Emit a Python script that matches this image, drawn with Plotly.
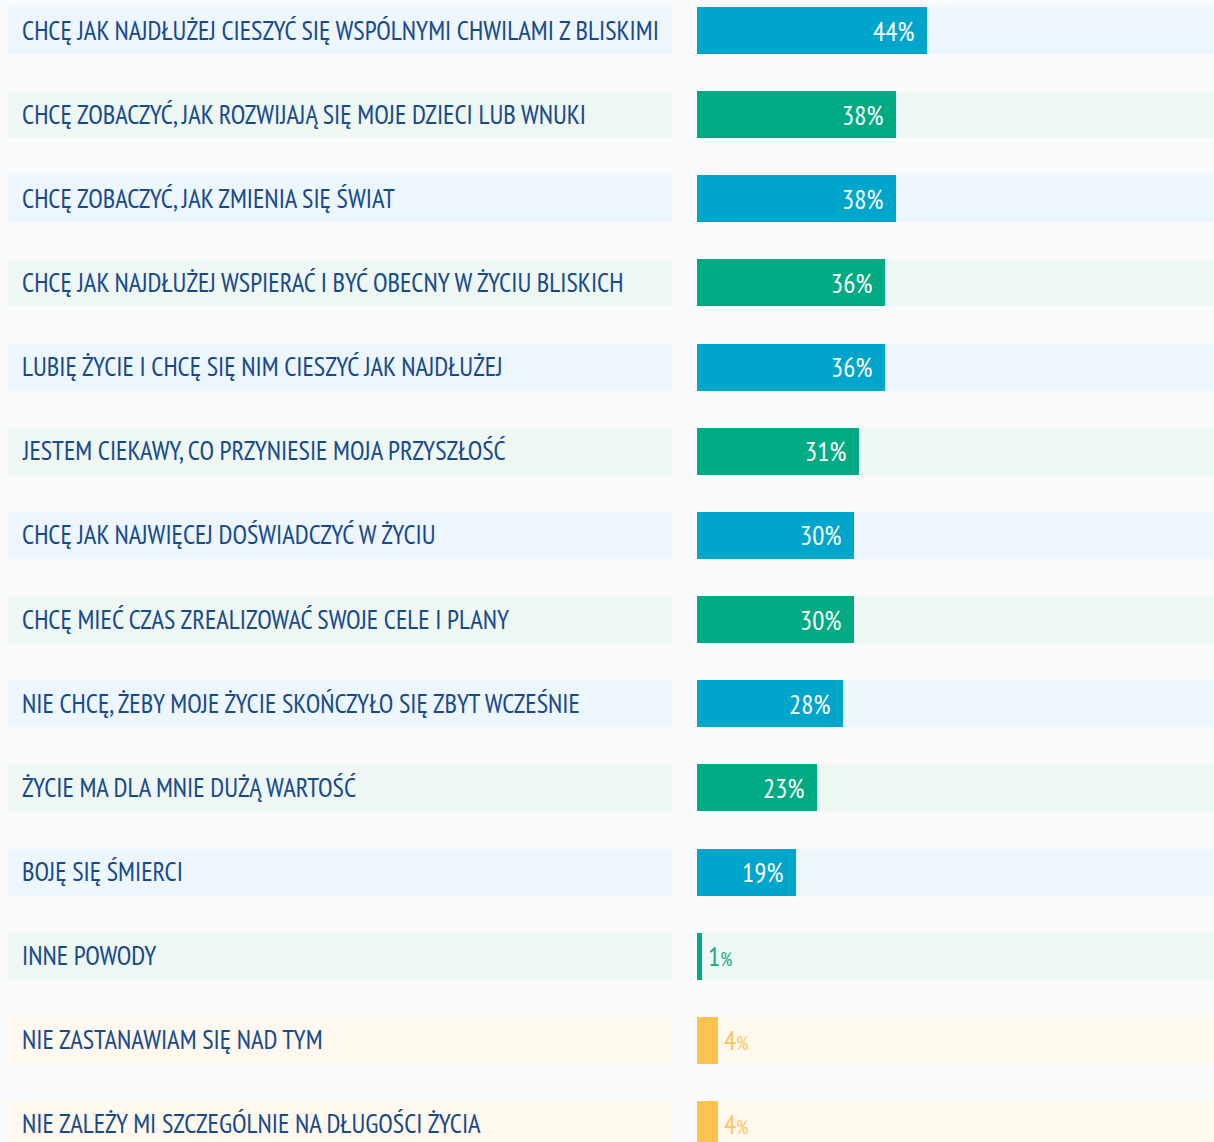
import plotly.graph_objects as go

labels = [
    "CHCĘ JAK NAJDŁUŻEJ CIESZYĆ SIĘ WSPÓLNYMI CHWILAMI Z BLISKIMI",
    "CHCĘ ZOBACZYĆ, JAK ROZWIJAJĄ SIĘ MOJE DZIECI LUB WNUKI",
    "CHCĘ ZOBACZYĆ, JAK ZMIENIA SIĘ ŚWIAT",
    "CHCĘ JAK NAJDŁUŻEJ WSPIERAĆ I BYĆ OBECNY W ŻYCIU BLISKICH",
    "LUBIĘ ŻYCIE I CHCĘ SIĘ NIM CIESZYĆ JAK NAJDŁUŻEJ",
    "JESTEM CIEKAWY, CO PRZYNIESIE MOJA PRZYSZŁOŚĆ",
    "CHCĘ JAK NAJWIĘCEJ DOŚWIADCZYĆ W ŻYCIU",
    "CHCĘ MIEĆ CZAS ZREALIZOWAĆ SWOJE CELE I PLANY",
    "NIE CHCĘ, ŻEBY MOJE ŻYCIE SKOŃCZYŁO SIĘ ZBYT WCZEŚNIE",
    "ŻYCIE MA DLA MNIE DUŻĄ WARTOŚĆ",
    "BOJĘ SIĘ ŚMIERCI",
    "INNE POWODY",
    "NIE ZASTANAWIAM SIĘ NAD TYM",
    "NIE ZALEŻY MI SZCZEGÓLNIE NA DŁUGOŚCI ŻYCIA",
]
values = [44, 38, 38, 36, 36, 31, 30, 30, 28, 23, 19, 1, 4, 4]
groups = ["blue", "green", "blue", "green", "blue", "green", "blue",
          "green", "blue", "green", "blue", "green", "yellow", "yellow"]

BAR = {"blue": "#00a5cb", "green": "#00aa82", "yellow": "#fcc34f"}
BG = {"blue": "#eef6fd", "green": "#eef7f3", "yellow": "#fff8ee"}
TXT = {"blue": "#00a5cb", "green": "#1aa982", "yellow": "#fbc55a"}
PAGE = "#f8fafc"
LABEL_COLOR = "#174a8b"
LABEL_FONT = "PT Sans Narrow, Liberation Sans Narrow, DejaVu Sans Condensed, Roboto Condensed, Noto Sans, sans-serif"
VALUE_FONT = LABEL_FONT

W, H = 1214, 1142
XMAX = 98.85  # visible part of the value scale

cats = list(range(len(labels)))
bar_colors = [BAR[g] for g in groups]
bg_colors = [BG[g] for g in groups]

pitch = 84.15
top_center = 30.5
bar_w = 47 / pitch

fig = go.Figure()

# left label boxes
fig.add_trace(go.Bar(
    x=[1] * len(labels), y=cats, orientation="h", xaxis="x2", yaxis="y",
    marker=dict(color=bg_colors, line=dict(width=0)), width=bar_w,
    hoverinfo="skip", showlegend=False,
))
# right background tracks
fig.add_trace(go.Bar(
    x=[XMAX] * len(labels), y=cats, orientation="h", xaxis="x", yaxis="y",
    marker=dict(color=bg_colors, line=dict(width=0)), width=bar_w,
    hoverinfo="skip", showlegend=False,
))
# value bars
fig.add_trace(go.Bar(
    x=values, y=cats, orientation="h", xaxis="x", yaxis="y",
    marker=dict(color=bar_colors, line=dict(width=0)), width=bar_w,
    hovertext=labels, showlegend=False,
))

annotations = []
for i, (lab, v, g) in enumerate(zip(labels, values, groups)):
    annotations.append(dict(
        x=0, xref="x2", y=i, yref="y", text=lab, showarrow=False,
        xanchor="left", yanchor="middle", xshift=12, yshift=1,
        font=dict(family=LABEL_FONT, size=26.5, color=LABEL_COLOR),
    ))
    if v >= 10:
        annotations.append(dict(
            x=v, xref="x", y=i, yref="y", text=f"{v}%", showarrow=False,
            xanchor="right", yanchor="middle", xshift=-10, yshift=0,
            font=dict(family=VALUE_FONT, size=27, color="white"),
        ))
    else:
        annotations.append(dict(
            x=v, xref="x", y=i, yref="y",
            text=f"{v}<span style='font-size:19px'>%</span>", showarrow=False,
            xanchor="left", yanchor="middle", xshift=4, yshift=0,
            font=dict(family=VALUE_FONT, size=27, color=TXT[g]),
        ))

r0 = -top_center / pitch
r1 = r0 + H / pitch

fig.update_layout(
    width=W, height=H,
    margin=dict(l=0, r=0, t=0, b=0),
    paper_bgcolor=PAGE, plot_bgcolor=PAGE,
    barmode="overlay", bargap=0,
    annotations=annotations,
    xaxis=dict(domain=[697 / W, 1], range=[0, XMAX], visible=False, fixedrange=True),
    xaxis2=dict(domain=[8 / W, 672 / W], range=[0, 1], visible=False, anchor="y", fixedrange=True),
    yaxis=dict(range=[r1, r0], visible=False, fixedrange=True),
)

fig.write_html(
    "out.html",
    config={"displayModeBar": False},
    post_script=(
        "document.body.style.margin='0';"
        "document.body.style.overflow='hidden';"
        "document.body.style.background='" + PAGE + "';"
    ),
)
